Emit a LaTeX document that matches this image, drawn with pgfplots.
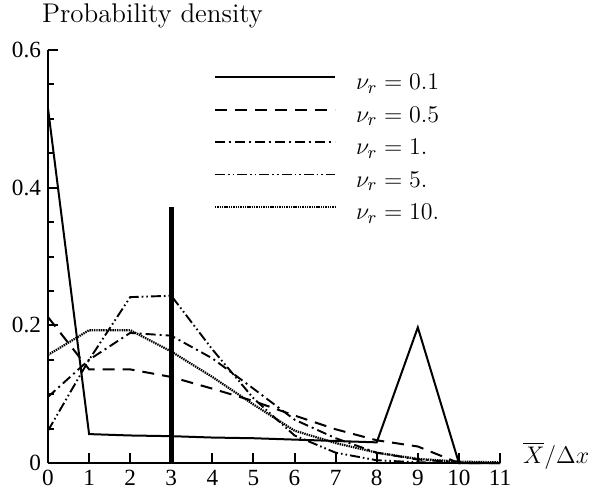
\documentclass[border=0pt]{standalone}
\usepackage{fontspec}
\usepackage{pgfplots}
\pgfplotsset{compat=1.18}
\newfontfamily\timesfont{Liberation Serif}
\newcommand\ylabfont{\fontsize{13.5}{16}\selectfont}
\newcommand\xlabfont{\fontsize{13.2}{15}\selectfont}
\newcommand\legfont{\fontsize{12.8}{15}\selectfont}
\newcommand\tickfont{\timesfont\fontsize{11.6}{13}\selectfont}
\begin{document}
\begin{tikzpicture}
\begin{axis}[
  name=ax,
  scale only axis,
  width=226pt, height=206.5pt,
  xmin=0, xmax=11, ymin=0, ymax=0.6,
  clip=false,
  axis lines=left,
  axis line style={-, line width=1.2pt},
  tick style={line width=1pt, black},
  major tick length=5pt, minor tick length=3pt,
  tick align=inside,
  xtick={0,1,...,11},
  ytick={0,0.2,0.4,0.6},
  minor y tick num=3,
  tick label style={font=\tickfont},
  /pgf/number format/assume math mode=true,
  legend cell align=left,
  legend image code/.code={\draw[#1] (0pt,3.3pt) -- (60pt,3.3pt);},
  legend style={draw=none, fill=none, at={(axis cs:3.88,0.575)}, anchor=north west,
    font=\legfont, row sep=4.25pt, column sep=10pt,
    nodes={inner sep=0pt, text height=9pt, text depth=3pt}},
]
\addplot[black, line width=1pt] coordinates {
(0,0.515) (1,0.042) (2,0.040) (3,0.039) (4,0.037) (5,0.036) (6,0.034) (7,0.032) (8,0.030) (9,0.197) (10,0) (11,0)};
\addlegendentry{$\nu_r = 0.1$}
\addplot[black, line width=1pt, dash pattern=on 6pt off 4pt] coordinates {
(0,0.212) (1,0.136) (2,0.136) (3,0.125) (4,0.108) (5,0.090) (6,0.069) (7,0.049) (8,0.033) (9,0.024) (10,0) (11,0)};
\addlegendentry{$\nu_r = 0.5$}
\addplot[black, line width=0.95pt, dash pattern=on 5pt off 2pt on 1pt off 2pt] coordinates {
(0,0.096) (1,0.150) (2,0.189) (3,0.185) (4,0.152) (5,0.108) (6,0.063) (7,0.036) (8,0.015) (9,0.005) (10,0.001) (11,0)};
\addlegendentry{$\nu_r = 1.$}
\addplot[black, line width=0.95pt, dash pattern=on 5pt off 1.5pt on 0.8pt off 1.5pt on 0.8pt off 1.5pt] coordinates {
(0,0.047) (1,0.150) (2,0.241) (3,0.243) (4,0.165) (5,0.094) (6,0.040) (7,0.015) (8,0.004) (9,0.001) (10,0) (11,0)};
\addlegendentry{$\nu_r = 5.$}
\addplot[black, line width=1.1pt, dash pattern=on 0.7pt off 0.45pt] coordinates {
(0,0.157) (1,0.193) (2,0.193) (3,0.162) (4,0.125) (5,0.085) (6,0.047) (7,0.029) (8,0.015) (9,0.006) (10,0.002) (11,0.001)};
\addlegendentry{$\nu_r = 10.$}
\addplot[black, line width=2.3pt, forget plot] coordinates {(3,0) (3,0.372)};
\end{axis}
\node[anchor=base west, font=\ylabfont] at ([shift={(-6.5pt,13.6pt)}]ax.north west) {Probability density};
\node[anchor=base west, font=\xlabfont] at ([shift={(8pt,0pt)}]ax.south east) {$\overline{X}/\Delta x$};
\pgfresetboundingbox
\path[use as bounding box] ([shift={(-24pt,-18pt)}]ax.south west) rectangle ([shift={(49pt,25pt)}]ax.north east);
\end{tikzpicture}
\end{document}
